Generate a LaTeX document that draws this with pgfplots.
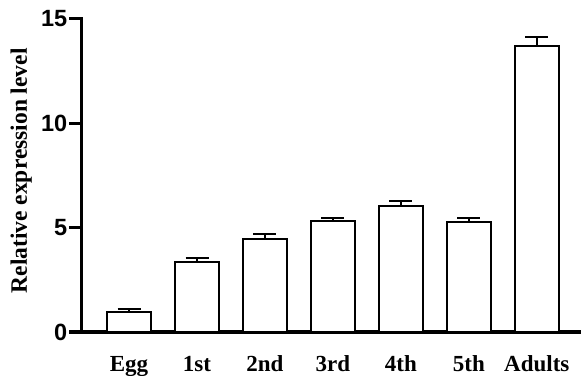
\documentclass[border=0pt]{standalone}
\usepackage{pgfplots}
\pgfplotsset{compat=1.18}
\usepackage{fontspec}
\newfontfamily\tickfont{Liberation Sans}
\newfontfamily\lblfont{Liberation Serif}
\begin{document}
\begin{tikzpicture}
\useasboundingbox (0,0) rectangle (581bp,376bp);
\begin{axis}[
  at={(81.5bp,44bp)}, anchor=south west,
  scale only axis, width=499.5bp, height=313bp,
  xmin=-0.70, xmax=6.65, ymin=0, ymax=15,
  axis lines*=left,
  axis line style={line width=3bp, line cap=rect},
  ytick={0,5,10,15},
  ytick style={line width=3bp, black},
  tick align=outside,
  major tick length=12bp,
  xtick={0,1,2,3,4,5,6},
  xticklabels={Egg,1st,2nd,3rd,4th,5th,Adults},
  xtick style={draw=none},
  /pgf/number format/assume math mode=true,
  yticklabel style={font=\tickfont\bfseries\fontsize{23.5bp}{27bp}\selectfont, inner sep=0pt, xshift=-2bp},
  xticklabel style={font=\lblfont\bfseries\fontsize{23bp}{27bp}\selectfont, anchor=base, inner sep=0pt, yshift=-27bp},
  ylabel={Relative expression level},
  every axis y label/.style={at={(axis description cs:-0.099,0.515)}, rotate=90, anchor=south, inner sep=0pt, font=\lblfont\bfseries\fontsize{23.5bp}{27bp}\selectfont},
  clip=false,
]
\addplot[ybar, bar width=0.64, fill=white, draw=black, line width=2bp,
  error bars/.cd, y dir=plus, y explicit,
  error bar style={line width=2bp, black},
  error mark options={rotate=90, mark size=11.5bp, line width=2bp, black}]
  coordinates {
  (0,0.95) +- (0,0.13)
  (1,3.35) +- (0,0.18)
  (2,4.45) +- (0,0.25)
  (3,5.33) +- (0,0.13)
  (4,6.05) +- (0,0.22)
  (5,5.28) +- (0,0.17)
  (6,13.70) +- (0,0.45)
  };
\end{axis}
\end{tikzpicture}
\end{document}
